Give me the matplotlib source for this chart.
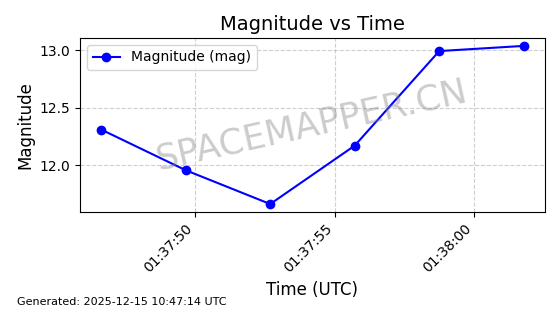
import datetime as dt
import matplotlib
matplotlib.use("Agg")
import matplotlib.pyplot as plt
import matplotlib.dates as mdates

# observation times (seconds past 01:37:00 UTC) and magnitudes
secs = [46.62, 49.65, 52.68, 55.71, 58.74, 61.77]
mags = [12.31, 11.955, 11.66, 12.17, 12.995, 13.04]

base = dt.datetime(2025, 12, 15, 1, 37, 0)
times = [base + dt.timedelta(seconds=s) for s in secs]

fig, ax = plt.subplots(figsize=(5.6, 3.14), dpi=100)
fig.subplots_adjust(left=0.143, right=0.973, top=0.879, bottom=0.325)

ax.plot(times, mags, 'o-', color='blue', linewidth=1.5, markersize=6,
        label='Magnitude (mag)')
ax.set_title('Magnitude vs Time', fontsize=14)
ax.set_xlabel('Time (UTC)', fontsize=12)
ax.set_ylabel('Magnitude', fontsize=12)
ax.grid(True, linestyle='--', alpha=0.6)
ax.legend(loc='upper left')

ax.xaxis.set_major_locator(mdates.SecondLocator(bysecond=range(0, 60, 5)))
ax.xaxis.set_major_formatter(mdates.DateFormatter('%H:%M:%S'))
plt.setp(ax.get_xticklabels(), rotation=45, ha='right')

# watermark
fig.text(0.556, 0.60, 'SPACEMAPPER.CN', fontsize=25.5, color='gray', alpha=0.4,
         rotation=12.5, ha='center', va='center')

fig.text(0.03, 0.03, 'Generated: 2025-12-15 10:47:14 UTC', fontsize=8)

fig.savefig('out.png', dpi=100)
